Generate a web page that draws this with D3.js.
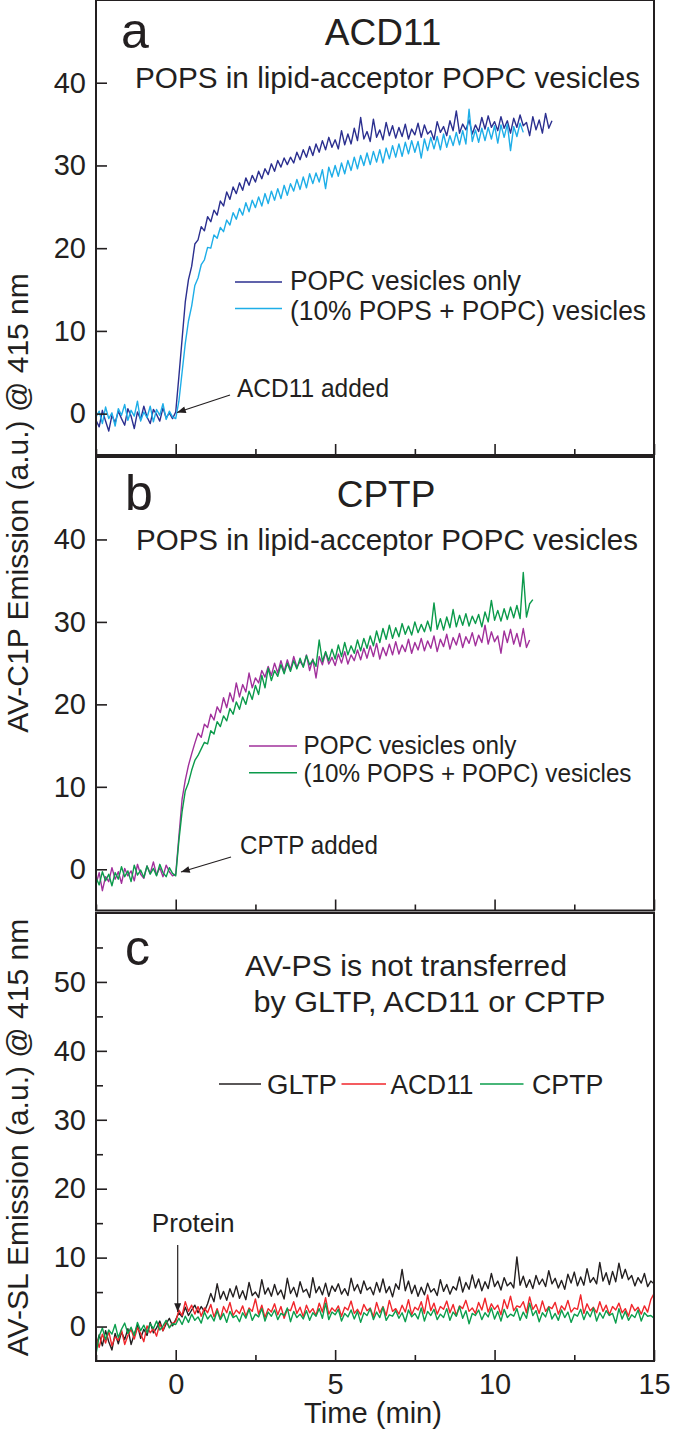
<!DOCTYPE html>
<html><head><meta charset="utf-8">
<script src="https://cdn.jsdelivr.net/npm/d3@7"></script>
<style>
body{margin:0;background:#fff}
text{font-family:"Liberation Sans",Arial,Helvetica,sans-serif;fill:#231f20}
</style>
</head><body>
<svg id="chart" width="700" height="1437"></svg>
<script>
// ---------- DATA ----------
const timeStart = -2.5;   // min
const timeStep = 0.1;     // min
const xTickMajor = [0, 5, 10, 15];
const xTickMinor = [-2.5, 2.5, 7.5, 12.5];
const xTickLabels = ["0", "5", "10", "15"];
const yTicksAB = [0, 10, 20, 30, 40];
const yTicksC = [0, 10, 20, 30, 40, 50];
const yMinorC = [5, 15, 25, 35, 45, 55];

// Panel a: ACD11
const acdPOPC = [-0.8,-1.6,0.4,-0.9,-2.1,-0.2,-1.1,0.3,-0.6,-1.4,0.6,-0.3,-1.8,0.2,-0.7,0.9,-0.4,-1.2,0.5,-0.1,-0.9,0.7,-0.5,0.1,-0.6,
0.2,4.5,9.0,13.5,16.2,17.8,20.5,21.0,22.6,22.1,23.8,23.2,24.6,24.0,25.7,25.1,26.8,25.9,27.4,26.6,27.9,27.0,28.5,27.6,28.8,28.0,
29.3,28.4,29.6,28.9,30.2,29.3,30.6,29.8,30.9,30.1,31.0,30.3,31.6,30.7,31.9,31.0,32.3,31.2,32.6,31.6,33.0,31.9,33.4,32.2,33.1,
32.0,34.2,32.5,33.8,32.6,34.5,33.0,35.8,33.2,34.1,32.9,35.6,33.4,34.3,33.1,35.2,33.6,34.8,33.3,34.6,33.5,35.0,33.2,34.4,33.7,
35.1,33.4,34.9,33.8,34.2,33.1,35.3,34.0,34.7,33.6,35.4,34.2,36.6,33.9,35.0,34.3,35.5,33.8,34.9,34.1,35.8,34.4,36.0,34.6,35.3,
34.2,35.9,34.5,35.4,33.9,35.7,34.6,36.1,34.8,35.2,33.6,35.9,34.3,35.5,33.9,36.3,34.5,35.4];
const acdPOPS = [-0.4,0.3,-1.2,0.8,-0.6,0.1,-1.5,0.6,-0.2,1.1,-0.8,0.4,-0.3,1.5,-0.9,0.2,-0.5,0.9,-1.0,0.5,-0.2,1.2,-0.7,0.3,-0.4,
-0.6,1.5,5.0,8.5,11.2,13.0,15.5,16.4,18.0,18.6,20.1,20.0,21.6,21.2,22.5,22.0,23.4,22.8,24.3,23.5,24.8,24.0,25.5,24.4,25.8,24.9,
26.2,25.1,26.6,25.4,26.9,25.8,27.2,26.0,27.6,26.4,27.8,26.9,28.3,27.1,28.6,27.3,29.0,27.8,29.1,28.0,29.5,27.2,29.8,28.6,30.0,
28.7,30.3,29.0,30.6,29.4,31.0,29.6,31.2,30.0,31.5,30.1,31.7,30.4,31.9,30.3,32.1,30.8,32.4,31.0,32.6,31.1,32.8,31.4,33.0,31.6,
32.9,30.9,33.2,31.8,33.4,32.0,33.5,31.9,33.8,32.2,33.6,32.4,34.0,32.5,34.2,32.6,36.8,32.9,34.3,32.8,34.5,33.0,34.6,33.2,34.8,
32.7,34.9,33.4,35.0,31.8,34.7,33.5,35.1,34.0];

// Panel b: CPTP
const cptpPOPC = [-1.8,-0.4,-2.6,-0.9,-1.5,0.2,-1.2,-0.3,-1.7,0.1,-0.8,-0.2,-1.4,0.6,-0.6,-1.1,0.4,-0.5,0.9,-0.7,0.2,-0.9,0.5,-0.3,-0.8,
-0.6,4.0,8.5,10.8,12.6,14.0,15.3,16.5,16.0,17.6,17.2,18.8,18.1,19.7,19.0,20.8,19.6,21.4,20.3,22.6,20.9,22.4,21.5,23.8,22.0,23.2,
22.6,24.1,23.3,24.6,23.5,25.0,23.8,25.3,24.0,25.4,24.2,25.8,24.5,25.2,24.6,26.0,24.1,25.5,23.2,25.8,24.8,26.3,24.9,25.7,24.7,
26.1,25.0,26.4,24.9,26.0,25.3,26.6,25.4,26.8,25.6,27.1,25.8,27.4,25.5,26.9,25.9,27.3,26.0,27.6,26.1,27.2,26.4,27.9,26.2,27.5,
26.6,28.0,26.5,27.7,26.8,28.3,26.4,27.9,27.0,28.5,26.7,28.1,27.2,28.6,26.9,28.2,27.4,28.7,27.1,28.4,27.5,29.6,27.3,28.8,27.6,
28.3,26.2,28.9,27.5,29.1,27.3,28.6,27.0,29.2,26.9,27.8];
const cptpPOPS = [-1.0,-1.9,-0.3,-1.4,-0.6,-2.0,-0.4,-1.2,0.3,-0.9,-0.2,-1.5,0.5,-0.7,-0.1,-1.0,0.4,-0.6,0.1,-0.8,0.6,-0.4,-0.9,0.2,-0.5,
-0.8,3.5,7.0,9.5,10.5,12.0,13.2,13.8,14.6,15.4,15.2,16.8,16.4,17.9,17.3,18.6,18.0,19.5,18.8,20.3,19.4,20.9,20.0,21.6,20.6,22.3,
21.2,23.5,22.0,24.4,22.9,24.1,23.4,24.8,23.7,25.0,24.0,25.3,24.3,25.6,24.5,25.9,24.8,25.4,24.6,27.8,25.2,26.4,25.3,26.7,25.5,
27.2,25.8,27.5,26.0,27.1,26.2,27.8,26.5,28.0,26.8,28.3,27.1,28.9,27.5,29.2,27.9,29.6,28.0,29.3,28.2,29.8,28.5,29.5,28.4,30.0,
28.7,29.7,28.8,30.1,28.9,32.3,29.1,30.4,29.0,30.6,29.3,31.5,29.4,30.8,29.6,31.0,29.5,30.7,29.8,30.9,29.4,31.2,30.0,32.6,30.2,
31.4,30.1,31.6,30.3,31.8,30.5,32.0,30.4,36.0,30.6,32.2,32.7];

// Panel c: AV-PS
const gltpPS = [-3.0,-1.2,-2.8,-0.6,-2.2,-3.4,-1.0,-2.5,-0.8,-1.9,-0.3,-2.6,-1.1,0.2,-1.7,-0.4,-1.3,0.6,-0.9,-0.2,0.8,-0.6,0.4,1.2,0.1,1.0,
2.0,1.4,2.8,1.6,2.4,3.1,2.0,2.9,2.2,3.3,
4.8,3.6,6.2,4.0,5.1,3.8,5.5,4.3,5.9,4.1,
5.2,3.9,6.4,4.5,5.0,4.2,6.8,4.7,5.6,4.4,
6.1,4.6,5.3,4.0,7.0,4.8,5.7,4.3,6.5,5.0,
5.4,4.2,7.1,4.9,5.8,4.6,6.3,4.4,5.9,5.1,
6.2,4.7,5.5,4.5,7.0,5.2,6.1,4.8,6.6,5.3,
5.7,4.6,6.4,5.0,6.9,4.9,5.8,4.3,6.2,5.4,
8.3,5.2,6.6,4.8,6.0,4.4,5.7,4.6,6.3,5.0,
5.5,4.5,6.8,5.1,6.1,4.7,5.8,5.3,7.2,5.0,
6.4,5.4,7.5,5.6,6.9,5.2,6.5,5.5,7.7,5.8,
6.6,5.3,7.1,5.9,6.4,5.6,10.1,6.0,7.3,5.7,
6.8,5.5,7.4,6.1,6.9,5.8,8.1,6.2,7.0,5.6,
6.7,5.4,7.6,6.3,7.9,5.9,7.2,6.0,8.4,6.4,
7.1,6.2,9.3,6.6,7.8,6.1,8.0,6.5,9.2,7.0,
8.3,6.8,7.4,5.9,7.1,6.3,7.7,5.8,6.6,6.2];
const acd11PS = [-1.6,-3.0,-1.1,-2.4,-0.7,-2.8,-1.5,-2.0,-0.5,-2.6,-1.3,-0.4,-1.8,-0.2,-1.0,-2.2,0.1,-0.9,-0.3,-1.4,0.4,-0.6,0.8,-0.1,0.5,0.7,
2.4,1.6,3.6,2.2,3.1,1.8,2.9,1.5,2.7,2.0,
3.2,1.4,2.6,1.1,2.9,2.0,3.5,1.6,2.4,1.9,
3.0,1.5,2.7,2.2,4.0,1.8,3.1,1.3,2.6,2.1,
3.3,1.7,2.9,1.2,2.5,2.3,3.6,1.9,2.8,1.4,
3.1,2.0,2.6,1.6,3.4,2.1,4.2,1.8,2.7,2.2,
3.0,1.5,2.8,2.4,3.7,1.9,2.5,1.7,3.2,2.3,
2.7,1.4,3.5,2.0,2.9,1.6,3.8,2.2,2.6,1.8,
3.1,2.1,3.9,1.7,2.8,2.4,3.6,1.9,4.6,2.3,
3.4,1.8,2.9,2.5,3.7,2.0,3.2,1.6,3.0,2.6,
3.8,2.2,2.7,1.9,3.5,2.4,4.1,2.1,3.3,2.5,
3.1,1.7,3.9,2.6,4.4,2.3,3.0,2.8,3.6,2.0,
4.3,2.5,3.2,1.9,3.7,2.2,2.9,2.6,3.5,1.8,
3.0,2.4,3.8,2.1,2.7,2.5,4.6,1.9,3.3,2.3,
2.8,2.0,3.6,2.2,3.1,1.7,2.9,2.4,3.4,2.0,
2.6,1.5,3.2,2.3,2.8,1.8,3.0,2.1,3.9,4.8];
const cptpPS = [-4.0,-1.4,-0.2,-1.9,-0.5,-1.1,0.3,-1.6,-0.4,0.5,-1.0,-0.1,-1.3,0.6,-0.6,0.2,-0.9,0.4,-0.3,0.8,-0.5,0.1,0.9,-0.2,0.4,0.3,
1.2,0.3,1.5,0.6,1.8,0.9,1.4,0.5,2.1,1.1,
1.7,0.8,2.3,1.0,1.9,0.6,2.2,1.3,1.6,0.7,
2.0,1.2,2.5,0.9,1.8,1.4,2.6,0.8,2.1,1.5,
2.4,1.0,1.9,1.6,2.7,0.7,2.2,1.3,1.8,1.1,
2.3,0.9,2.0,1.5,2.6,1.2,3.4,1.0,2.1,1.7,
2.5,0.8,1.9,1.4,2.4,1.1,2.2,0.6,2.0,1.6,
2.6,1.0,2.1,1.3,2.8,0.9,1.7,1.5,2.3,1.2,
2.0,0.7,2.4,1.4,1.9,1.1,2.7,0.8,2.2,1.6,
2.5,1.0,1.8,1.3,2.6,0.9,2.1,1.5,2.9,1.2,
2.3,0.4,1.9,1.6,2.4,1.0,2.0,1.4,2.7,1.1,
2.2,0.8,2.5,1.3,1.8,1.5,2.6,0.9,2.1,1.2,
3.4,1.6,2.3,0.7,2.0,1.4,2.8,1.1,1.9,0.9,
2.4,1.3,2.1,0.6,1.8,1.5,2.5,1.0,2.2,1.4,
2.7,0.8,2.0,1.2,2.3,1.6,1.9,0.5,2.6,1.1,
2.2,0.9,1.7,1.3,2.4,0.8,2.0,1.5,1.6,1.2];

// ---------- CHART ----------
const svg = d3.select("#chart");
const X0 = 96, X1 = 654;
const x = d3.scaleLinear().domain([-2.5, 15]).range([X0, X1]);
const toPts = arr => arr.map((v, i) => [timeStart + i * timeStep, v]);

const defs = svg.append("defs");
defs.append("marker").attr("id", "arr").attr("viewBox", "0 0 10 8")
  .attr("refX", 10).attr("refY", 4).attr("markerWidth", 11).attr("markerHeight", 7)
  .attr("markerUnits", "userSpaceOnUse").attr("orient", "auto")
  .append("path").attr("d", "M0,0L10,4L0,8Z").attr("fill", "#231f20");

const panels = [
  {top: 0, bottom: 455, dom: [-5, 50], ticks: yTicksAB, minor: [],
   series: [{d: acdPOPC, c: "#2b2f8f"}, {d: acdPOPS, c: "#1eaee8"}]},
  {top: 457, bottom: 910.5, dom: [-5, 50], ticks: yTicksAB, minor: [],
   series: [{d: cptpPOPC, c: "#a1309b"}, {d: cptpPOPS, c: "#0b9a4b"}]},
  {top: 913, bottom: 1361, dom: [-5, 60], ticks: yTicksC, minor: yMinorC,
   series: [{d: gltpPS, c: "#231f20"}, {d: acd11PS, c: "#f0262b"}, {d: cptpPS, c: "#0b9e4d"}]}
];

panels.forEach((p, pi) => {
  const y = d3.scaleLinear().domain(p.dom).range([p.bottom, p.top]);
  p.y = y;
  const g = svg.append("g");
  const cid = "clip" + pi;
  defs.append("clipPath").attr("id", cid).append("rect")
    .attr("x", X0).attr("y", p.top).attr("width", X1 - X0).attr("height", p.bottom - p.top);
  const line = d3.line().x(d => x(d[0])).y(d => y(d[1]));
  const cg = g.append("g").attr("clip-path", `url(#${cid})`);
  p.series.forEach(s => {
    cg.append("path").attr("d", line(toPts(s.d))).attr("fill", "none")
      .attr("stroke", s.c).attr("stroke-width", 1.4).attr("stroke-linejoin", "round");
  });
  // y axis (inward ticks)
  const ya = g.append("g").attr("transform", `translate(${X0},0)`)
    .call(d3.axisLeft(y).tickValues(p.ticks).tickSizeInner(-11).tickSizeOuter(0).tickPadding(10));
  ya.select(".domain").remove();
  ya.selectAll("line").attr("stroke", "#231f20").attr("stroke-width", 1.6);
  ya.selectAll("text").attr("font-size", 29).style("font-family", '"Liberation Sans",Arial,sans-serif').attr("fill", "#231f20");
  if (p.minor.length) {
    const ym = g.append("g").attr("transform", `translate(${X0},0)`)
      .call(d3.axisLeft(y).tickValues(p.minor).tickSizeInner(-7).tickSizeOuter(0).tickFormat(""));
    ym.select(".domain").remove();
    ym.selectAll("line").attr("stroke", "#231f20").attr("stroke-width", 1.6);
  }
  // x axis (inward ticks)
  const last = pi === panels.length - 1;
  const xa = g.append("g").attr("transform", `translate(0,${p.bottom})`)
    .call(d3.axisBottom(x).tickValues(xTickMajor).tickSizeInner(-11).tickSizeOuter(0).tickPadding(12)
      .tickFormat((d, i) => last ? xTickLabels[i] : ""));
  xa.select(".domain").remove();
  xa.selectAll("line").attr("stroke", "#231f20").attr("stroke-width", 1.6);
  xa.selectAll("text").attr("font-size", 29).style("font-family", '"Liberation Sans",Arial,sans-serif').attr("fill", "#231f20");
  const xm = g.append("g").attr("transform", `translate(0,${p.bottom})`)
    .call(d3.axisBottom(x).tickValues(xTickMinor).tickSizeInner(-6).tickSizeOuter(0).tickFormat(""));
  xm.select(".domain").remove();
  xm.selectAll("line").attr("stroke", "#231f20").attr("stroke-width", 1.6);
  // frame
  g.append("rect").attr("x", X0).attr("y", p.top).attr("width", X1 - X0).attr("height", p.bottom - p.top)
    .attr("fill", "none").attr("stroke", "#231f20").attr("stroke-width", 2);
});

function txt(s, xx, yy, fs, opts = {}) {
  const t = svg.append("text").attr("x", xx).attr("y", yy).attr("font-size", fs).text(s);
  if (opts.anchor) t.attr("text-anchor", opts.anchor);
  if (opts.len) t.attr("textLength", opts.len).attr("lengthAdjust", "spacingAndGlyphs");
  return t;
}
function legLine(x1, x2, yy, c) {
  svg.append("line").attr("x1", x1).attr("x2", x2).attr("y1", yy).attr("y2", yy)
    .attr("stroke", c).attr("stroke-width", 1.6);
}
function arrow(x1, y1, x2, y2) {
  svg.append("line").attr("x1", x1).attr("y1", y1).attr("x2", x2).attr("y2", y2)
    .attr("stroke", "#231f20").attr("stroke-width", 1.2).attr("marker-end", "url(#arr)");
}

// Panel a texts
txt("a", 121, 48, 50);
txt("ACD11", 383, 45, 37, {anchor: "middle"});
txt("POPS in lipid-acceptor POPC vesicles", 135, 88, 29.5, {len: 505});
legLine(235, 282, 282, panels[0].series[0].c);
legLine(235, 282, 308.5, panels[0].series[1].c);
txt("POPC vesicles only", 290, 289.5, 27, {len: 231});
txt("(10% POPS + POPC) vesicles", 290, 320, 27, {len: 356});
txt("ACD11 added", 237, 397, 25, {len: 152});
arrow(230, 395, 177, 412.5);

// Panel b texts
txt("b", 125, 510, 50);
txt("CPTP", 386, 507, 37, {anchor: "middle"});
txt("POPS in lipid-acceptor POPC vesicles", 136, 550, 29.5, {len: 502});
legLine(249, 297, 746, panels[1].series[0].c);
legLine(249, 297, 772.7, panels[1].series[1].c);
txt("POPC vesicles only", 303.5, 754, 25, {len: 213});
txt("(10% POPS + POPC) vesicles", 303.5, 781.7, 25, {len: 328});
txt("CPTP added", 240, 854, 25, {len: 138});
arrow(231, 857, 181, 872);

// Panel c texts
txt("c", 125, 965, 50);
txt("AV-PS is not transferred", 245, 976, 29, {len: 322});
txt("by GLTP, ACD11 or CPTP", 253.5, 1011.7, 29, {len: 352});
legLine(219, 261, 1084, panels[2].series[0].c);
legLine(341.5, 386, 1084, panels[2].series[1].c);
legLine(480, 523.5, 1084, panels[2].series[2].c);
txt("GLTP", 267, 1094, 27, {len: 70});
txt("ACD11", 390.5, 1094, 27, {len: 83});
txt("CPTP", 532, 1094, 27, {len: 71.5});
txt("Protein", 151.7, 1231.7, 26, {len: 83});
arrow(177.7, 1245, 177.7, 1312);

// Axis titles
txt("Time (min)", 373, 1423, 29, {anchor: "middle", len: 138});
svg.append("text").attr("transform", "translate(28,503) rotate(-90)")
  .attr("text-anchor", "middle").attr("font-size", 30).text("AV-C1P Emission (a.u.) @ 415 nm");
svg.append("text").attr("transform", "translate(28,1137.5) rotate(-90)")
  .attr("text-anchor", "middle").attr("font-size", 30).text("AV-SL Emission (a.u.) @ 415 nm");
</script>
</body></html>
